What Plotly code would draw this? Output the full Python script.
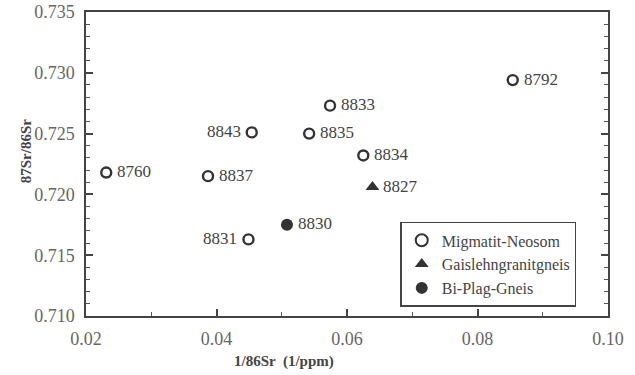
import plotly.graph_objects as go

# Migmatit-Neosom (open circles)
mig_ids = ["8792", "8833", "8843", "8835", "8834", "8760", "8837", "8831"]
mig_x = [0.0854, 0.0574, 0.0454, 0.0542, 0.0625, 0.0231, 0.0387, 0.0449]
mig_y = [0.7294, 0.7273, 0.7251, 0.7250, 0.7232, 0.7218, 0.7215, 0.7163]
mig_side = ["right", "right", "left", "right", "right", "right", "right", "left"]

# Gaislehngranitgneis (triangle)
gai_ids = ["8827"]
gai_x = [0.0639]
gai_y = [0.7206]
gai_side = ["right"]

# Bi-Plag-Gneis (filled circle)
bip_ids = ["8830"]
bip_x = [0.0508]
bip_y = [0.7175]
bip_side = ["right"]

x_ticks = [0.02, 0.04, 0.06, 0.08, 0.10]
y_ticks = [0.710, 0.715, 0.720, 0.725, 0.730, 0.735]

serif = "Liberation Serif"
dark = "#333333"
lab_font = dict(family=serif, size=17, color="#444444")

fig = go.Figure()
fig.add_trace(go.Scatter(
    x=mig_x, y=mig_y, mode="markers", name="Migmatit-Neosom",
    marker=dict(symbol="circle-open", size=10, color=dark, line=dict(width=2.4, color=dark)),
))
fig.add_trace(go.Scatter(
    x=gai_x, y=gai_y, mode="markers", name="Gaislehngranitgneis",
    marker=dict(symbol="triangle-up", size=12, color=dark),
))
fig.add_trace(go.Scatter(
    x=bip_x, y=bip_y, mode="markers", name="Bi-Plag-Gneis",
    marker=dict(symbol="circle", size=12, color=dark),
))

# point labels
for ids, xs, ys, sides in [(mig_ids, mig_x, mig_y, mig_side),
                           (gai_ids, gai_x, gai_y, gai_side),
                           (bip_ids, bip_x, bip_y, bip_side)]:
    for t, xv, yv, s in zip(ids, xs, ys, sides):
        fig.add_annotation(
            x=xv, y=yv, xref="x", yref="y", text=t, showarrow=False,
            xanchor="left" if s == "right" else "right", yanchor="middle",
            xshift=9 if s == "right" else -9, yshift=1,
            font=lab_font,
        )

# axis titles
fig.add_annotation(
    x=0.38, y=-0.15, xref="paper", yref="paper", text="<b>1/86Sr  (1/ppm)</b>",
    showarrow=False, xanchor="center", yanchor="middle",
    font=dict(family=serif, size=15, color="#444444"),
)
fig.add_annotation(
    x=-0.115, y=0.545, xref="paper", yref="paper", text="<b>87Sr/86Sr</b>",
    showarrow=False, textangle=-90, xanchor="center", yanchor="middle",
    font=dict(family=serif, size=15, color="#444444"),
)

fig.update_layout(
    width=635, height=375,
    margin=dict(l=86, r=27, t=12, b=59),
    paper_bgcolor="white", plot_bgcolor="white",
    font=dict(family=serif, size=14, color="#555555"),
    showlegend=True,
    legend=dict(
        x=0.602, y=0.03, xanchor="left", yanchor="bottom",
        bordercolor="#444444", borderwidth=1.5, bgcolor="white",
        font=dict(family=serif, size=16, color="#444444"),
        tracegroupgap=0, itemsizing="constant",
    ),
    xaxis=dict(
        range=[0.02, 0.10], tickvals=x_ticks, tickformat=".2f",
        showgrid=False, zeroline=False, automargin=False,
        showline=True, linecolor="#444444", linewidth=1.5, mirror=True,
        ticks="inside", ticklen=7, tickwidth=1.5, tickcolor="#444444",
        minor=dict(dtick=0.01, tick0=0.0, ticks="inside", ticklen=4, tickwidth=1.2, tickcolor="#555555"),
        tickfont=dict(family=serif, size=18, color="#666666"),
        ticklabelstandoff=6,
    ),
    yaxis=dict(
        range=[0.710, 0.735], tickvals=y_ticks, tickformat=".3f",
        showgrid=False, zeroline=False, automargin=False,
        showline=True, linecolor="#444444", linewidth=1.5, mirror="ticks",
        ticks="inside", ticklen=7, tickwidth=1.5, tickcolor="#444444",
        minor=dict(dtick=0.001, tick0=0.71, ticks="inside", ticklen=4, tickwidth=1.2, tickcolor="#555555"),
        tickfont=dict(family=serif, size=18, color="#666666"),
        ticklabelstandoff=6,
    ),
)

# remove the browser's default 8px page margin so the figure fills the window
fig.write_html(
    "out.html",
    config={"displayModeBar": False},
    post_script="document.body.style.margin='0';document.body.style.overflow='hidden';",
)
